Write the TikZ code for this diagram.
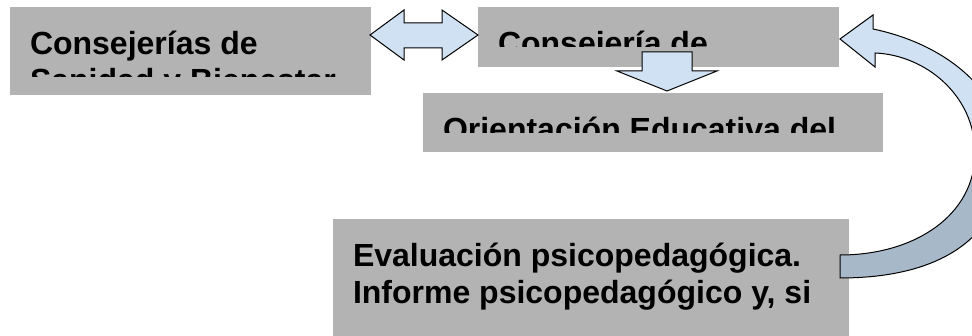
\documentclass[tikz,border=0pt]{standalone}
\usepackage{fontspec}
\setmainfont{Liberation Sans}
\definecolor{boxgray}{RGB}{179,179,179}
\definecolor{arrowblue}{RGB}{207,225,242}
\definecolor{arrowdark}{RGB}{167,184,201}
\tikzset{
  box/.style={fill=boxgray, draw=none, inner sep=0pt, outer sep=0pt, anchor=north west},
  boxtext/.style={anchor=base west, inner sep=0pt, outer sep=0pt, font=\fontsize{32}{37}\selectfont\bfseries},
  blockarrow/.style={fill=arrowblue, draw=black, line width=1pt, line join=miter},
}
\begin{document}
\begin{tikzpicture}[x=1pt,y=-1pt]
\useasboundingbox (0,0) rectangle (972,336);
% boxes
\node[box, minimum width=361pt, minimum height=88pt] (b1) at (10,7) {};
\node[box, minimum width=361pt, minimum height=60pt] (b2) at (478,7) {};
\node[box, minimum width=460pt, minimum height=59pt] (b3) at (423,93) {};
\node[box, minimum width=516pt, minimum height=125pt] (b4) at (333,219) {};
% texts (clipped like the text boxes)
\begin{scope}
\clip (b1.north west) rectangle (371,77);
\node[boxtext] (t1a) at (30,55) {Consejerías de};
\node[boxtext] (t1b) at (30,92) {Sanidad y Bienestar};
\end{scope}
\begin{scope}
\clip (b2.north west) rectangle (839,47);
\node[boxtext] (t2) at (498,55) {Consejería de};
\end{scope}
\begin{scope}
\clip (b3.north west) rectangle (883,133);
\node[boxtext] (t3) at (443,141) {Orientación Educativa del};
\end{scope}
\begin{scope}
\clip (b4.north west) rectangle (849,316);
\node[boxtext] (t4a) at (353,267) {Evaluación psicopedagógica.};
\node[boxtext] (t4b) at (353,304) {Informe psicopedagógico y, si};
\end{scope}
% double arrow between b1 and b2
\draw[blockarrow] (370,35) -- (404,10) -- (404,23) -- (442,23) -- (442,10) -- (478,35)
  -- (442,60) -- (442,48) -- (404,48) -- (404,60) -- cycle;
% down arrow from b2 to b3
\draw[blockarrow] (642,52) -- (692,52) -- (692,71) -- (717,71) -- (667,91) -- (617,71) -- (642,71) -- cycle;
% curved arrow from b4 to b2
\begin{scope}
\clip (0,0) rectangle (972,336);
\fill[arrowblue] (840,278) -- (840,255) .. controls (915,255) and (975,215) .. (975,153)
  .. controls (975,95) and (925,55) .. (875,53) -- (875,67) -- (840,39) -- (873,15) -- (873,29)
  .. controls (950,45) and (1005,95) .. (1005,155) .. controls (1005,230) and (950,278) .. (840,278) -- cycle;
\begin{scope}
\clip (0,152) rectangle (1020,340);
\fill[arrowdark] (840,278) -- (840,255) .. controls (915,255) and (975,215) .. (975,153)
  .. controls (975,95) and (925,55) .. (875,53) -- (875,67) -- (840,39) -- (873,15) -- (873,29)
  .. controls (950,45) and (1005,95) .. (1005,155) .. controls (1005,230) and (950,278) .. (840,278) -- cycle;
\end{scope}
\draw[line width=1pt, line join=miter] (840,278) -- (840,255) .. controls (915,255) and (975,215) .. (975,153)
  .. controls (975,95) and (925,55) .. (875,53) -- (875,67) -- (840,39) -- (873,15) -- (873,29)
  .. controls (950,45) and (1005,95) .. (1005,155) .. controls (1005,230) and (950,278) .. (840,278) -- cycle;
\end{scope}
\end{tikzpicture}
\end{document}
